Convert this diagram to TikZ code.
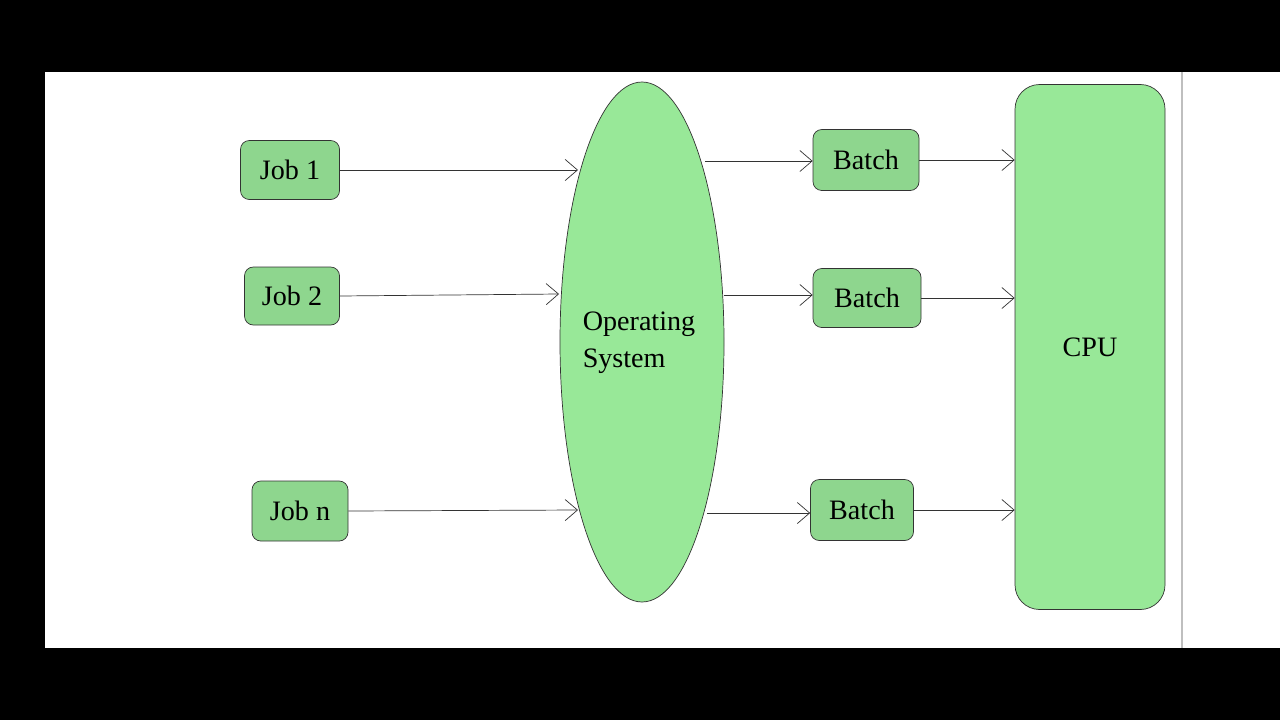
\documentclass[tikz,border=0pt]{standalone}
\usepackage{fontspec}
\setmainfont{Liberation Serif}
\usetikzlibrary{arrows.meta,positioning,shapes.geometric}
\definecolor{jobgreen}{HTML}{8ED68E}
\definecolor{osgreen}{HTML}{98E898}
\begin{document}
\begin{tikzpicture}[x=0.02cm,y=-0.02cm,
    box/.style={draw=black!80,rounded corners=5pt,fill=jobgreen,inner sep=0pt,font=\fontsize{16}{18}\selectfont},
    arr/.style={draw=black!80,thin,-{Straight Barb[length=7pt,width=12pt]}}]
  % frame
  \fill[black] (0,0) rectangle (1280,720);
  \fill[white] (45,72) rectangle (1280,648);
  \draw[black!25,thick] (1182,72) -- (1182,648);
  \useasboundingbox (0,0) rectangle (1280,720);
  \begin{scope}[every node/.style={box}]
    \node[minimum width=99*0.02cm,minimum height=59*0.02cm] (j1) at (290,170) {Job 1};
    \node[minimum width=95*0.02cm,minimum height=58*0.02cm] (j2) at (292,296) {Job 2};
    \node[minimum width=96*0.02cm,minimum height=60*0.02cm] (jn) at (300,511) {Job n};
    \node[minimum width=106*0.02cm,minimum height=61*0.02cm] (b1) at (866,160) {Batch};
    \node[minimum width=108*0.02cm,minimum height=59*0.02cm] (b2) at (867,298) {Batch};
    \node[minimum width=103*0.02cm,minimum height=61*0.02cm] (b3) at (862,510) {Batch};
    \node[fill=osgreen,rounded corners=14pt,minimum width=150*0.02cm,minimum height=525*0.02cm] (cpu) at (1090,347) {CPU};
  \end{scope}
  \node[ellipse,draw=black!80,fill=osgreen,minimum width=164*0.02cm,minimum height=520*0.02cm] (os) at (642,342) {};
  \node[align=left,font=\fontsize{16}{21}\selectfont] (ostext) at (639,343) {Operating\\System};
  % ends on the ellipse
  \coordinate (o1) at (578,170);
  \coordinate (o2) at (559,294);
  \coordinate (o3) at (578,510);
  \coordinate (p1) at (705,161);
  \coordinate (p2) at (724,295);
  \coordinate (p3) at (707,513);
  \path (j1.east) edge[arr] (o1);
  \path (j2.east) edge[arr] (o2);
  \path (jn.east) edge[arr] (o3);
  \path (p1) edge[arr] (b1.west |- p1);
  \path (p2) edge[arr] (b2.west |- p2);
  \path (p3) edge[arr] (b3.west |- p3);
  \path (b1.east) edge[arr] (cpu.west |- b1.east);
  \path (b2.east) edge[arr] (cpu.west |- b2.east);
  \path (b3.east) edge[arr] (cpu.west |- b3.east);
\end{tikzpicture}
\end{document}
